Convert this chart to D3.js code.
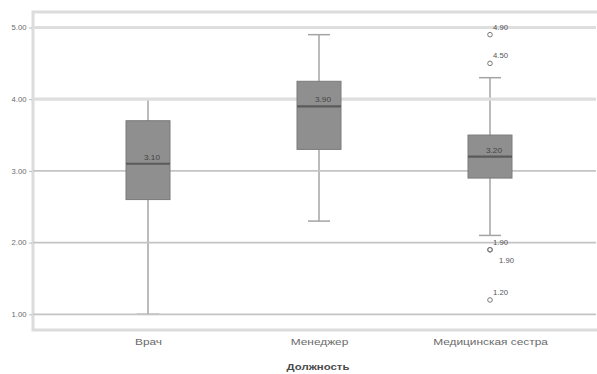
<!DOCTYPE html>
<html>
<head>
<meta charset="utf-8">
<script src="https://cdn.jsdelivr.net/npm/d3@7/dist/d3.min.js"></script>
<style>
  html, body { margin: 0; padding: 0; background: #fff; }
  svg { display: block; font-family: "Liberation Sans", Arial, sans-serif; }
</style>
</head>
<body>
<svg id="chart" width="597" height="374"></svg>
<script>
// Job groups and their box-plot summaries
const categories = ["Врач", "Менеджер", "Медицинская сестра"];
const q1Values      = [2.60, 3.30, 2.90];
const medianValues  = [3.10, 3.90, 3.20];
const q3Values      = [3.70, 4.25, 3.50];
const whiskerLow    = [1.00, 2.30, 2.10];
const whiskerHigh   = [4.00, 4.90, 4.30];
// Outliers per group (values also used as their labels)
const outliers = [[], [], [4.90, 4.50, 1.90, 1.90, 1.20]];
const yTicks = [1, 2, 3, 4, 5];
const xTitle = "Должность";

const svg = d3.select("#chart");
const frame = { left: 33, top: 12, right: 597, bottom: 330 };
const fmt = d3.format(".2f");

const y = d3.scaleLinear().domain([1, 5]).range([314.3, 27.5]);
const x = d3.scalePoint().domain(categories).range([148, 490]);

// Drawing layers: whiskers below the reference lines, boxes above them
const whiskerLayer = svg.append("g");
const gridLayer = svg.append("g");
const boxLayer = svg.append("g");

// Outer frame of the plot area
gridLayer.append("path")
  .attr("d", `M${frame.right},${frame.top}H${frame.left}V${frame.bottom}H${frame.right}`)
  .attr("fill", "none").attr("stroke", "#dcdcdc").attr("stroke-width", 3);

// Horizontal reference lines at each tick
gridLayer.selectAll("line.ref").data(yTicks).join("line")
  .attr("class", "ref")
  .attr("x1", frame.left).attr("x2", frame.right - 1)
  .attr("y1", d => y(d)).attr("y2", d => y(d))
  .attr("stroke", d => d >= 4 ? "#dedede" : "#c4c4c4")
  .attr("stroke-width", d => d >= 4 ? 3.2 : 1.8);

const boxW = 44, capW = 22;

categories.forEach((cat, i) => {
  const cx = x(cat);
  // whisker stem and caps
  whiskerLayer.append("line").attr("x1", cx).attr("x2", cx)
    .attr("y1", y(whiskerHigh[i])).attr("y2", y(whiskerLow[i]))
    .attr("stroke", "#a4a4a4").attr("stroke-width", 1.5);
  [whiskerHigh[i], whiskerLow[i]].forEach(v => {
    whiskerLayer.append("line").attr("x1", cx - capW / 2).attr("x2", cx + capW / 2)
      .attr("y1", y(v)).attr("y2", y(v))
      .attr("stroke", "#a4a4a4").attr("stroke-width", 1.5);
  });

  // box and median
  boxLayer.append("rect")
    .attr("x", cx - boxW / 2).attr("width", boxW)
    .attr("y", y(q3Values[i])).attr("height", y(q1Values[i]) - y(q3Values[i]))
    .attr("fill", "#8f8f8f").attr("stroke", "#7a7a7a").attr("stroke-width", 1);
  boxLayer.append("line").attr("x1", cx - boxW / 2).attr("x2", cx + boxW / 2)
    .attr("y1", y(medianValues[i])).attr("y2", y(medianValues[i]))
    .attr("stroke", "#5a5a5a").attr("stroke-width", 2.2);
  boxLayer.append("text")
    .attr("transform", `translate(${cx + 4},${y(medianValues[i]) - 4}) scale(1.1,1)`)
    .attr("text-anchor", "middle")
    .attr("fill", "#444").style("font-size", "7.5px")
    .text(fmt(medianValues[i]));

  // outliers with value labels, staggering labels that share a value
  const seen = {};
  outliers[i].forEach(v => {
    const k = fmt(v);
    const n = seen[k] || 0;
    seen[k] = n + 1;
    boxLayer.append("circle").attr("cx", cx).attr("cy", y(v)).attr("r", 2.3)
      .attr("fill", "none").attr("stroke", "#777").attr("stroke-width", 1);
    boxLayer.append("text")
      .attr("transform", `translate(${cx + 3 + n * 6},${y(v) - 5 + n * 18}) scale(1.1,1)`)
      .attr("fill", "#555").style("font-size", "7px")
      .text(k);
  });
});

// Y axis labels
const yAxis = d3.axisLeft(y).tickValues(yTicks).tickFormat(fmt).tickSize(3).tickPadding(2);
const gy = svg.append("g").attr("transform", `translate(${frame.left - 1},0)`).call(yAxis);
gy.select(".domain").remove();
gy.selectAll(".tick line").attr("stroke", "#bbb");
gy.selectAll("text").attr("fill", "#6a6a6a").style("font-size", "7px")
  .attr("transform", "scale(1.1,1)");

// X axis category labels
const xAxis = d3.axisBottom(x).tickSize(0).tickPadding(8);
const gx = svg.append("g").attr("transform", `translate(0,${frame.bottom})`).call(xAxis);
gx.select(".domain").remove();
gx.selectAll("text").attr("fill", "#6a6a6a").style("font-size", "9.5px")
  .attr("transform", "scale(1.25,1)");

svg.append("text")
  .attr("transform", "translate(318,370) scale(1.2,1)")
  .attr("text-anchor", "middle")
  .attr("fill", "#4a4a4a").style("font-size", "9.5px").style("font-weight", "bold")
  .text(xTitle);
</script>
</body>
</html>
